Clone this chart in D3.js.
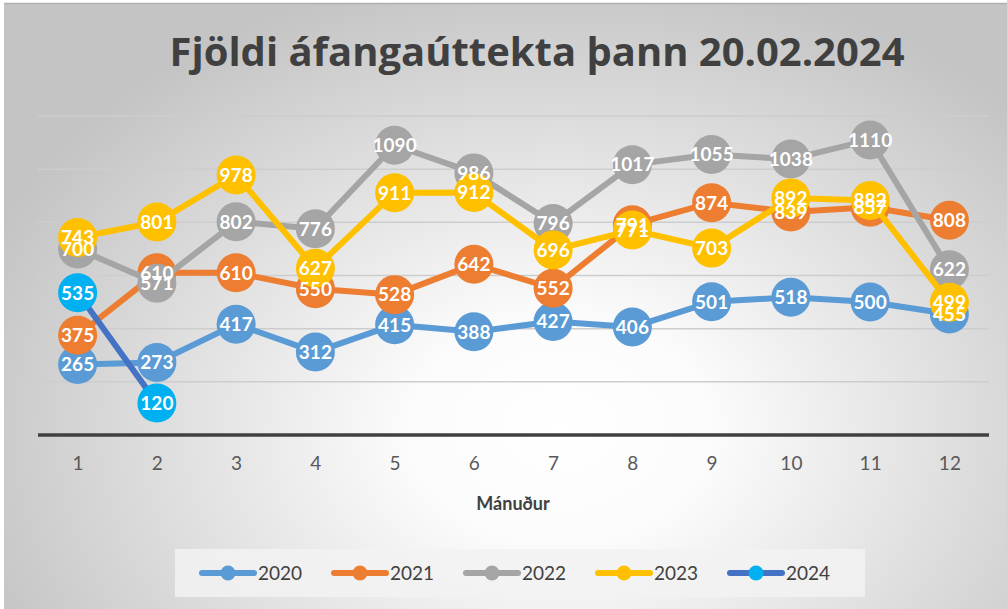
<!DOCTYPE html>
<html>
<head>
<meta charset="utf-8">
<script src="https://cdn.jsdelivr.net/npm/d3@7"></script>
<style>
  html, body { margin: 0; padding: 0; background: #fff; }
  svg { display: block; }
</style>
</head>
<body>
<div id="chart"></div>
<script>
// chart data
var months = [1, 2, 3, 4, 5, 6, 7, 8, 9, 10, 11, 12];
var years = ["2020", "2021", "2022", "2023", "2024"];
var v2020 = [265, 273, 417, 312, 415, 388, 427, 406, 501, 518, 500, 455];
var v2021 = [375, 610, 610, 550, 528, 642, 552, 791, 874, 839, 857, 808];
var v2022 = [700, 571, 802, 776, 1090, 986, 796, 1017, 1055, 1038, 1110, 622];
var v2023 = [743, 801, 978, 627, 911, 912, 696, 771, 703, 892, 882, 499];
var v2024 = [535, 120];
var gridTicks = [0, 200, 400, 600, 800, 1000, 1200];

var title = "Fjöldi áfangaúttekta þann 20.02.2024";
var xTitle = "Mánuður";

var lineColors = ["#5B9BD5", "#ED7D31", "#A5A5A5", "#FFC000", "#4472C4"];
var markColors = ["#5B9BD5", "#ED7D31", "#A5A5A5", "#FFC000", "#00B0F0"];

var series = [v2020, v2021, v2022, v2023, v2024].map(function (vals, i) {
    return {
        name: years[i],
        line: lineColors[i],
        mark: markColors[i],
        points: vals.map(function (v, j) { return { m: months[j], v: v }; })
    };
});

var width = 1007, height = 609;
var font = "Lato, 'Open Sans', sans-serif";

var svg = d3.select("#chart").append("svg")
    .attr("width", width)
    .attr("height", height);

// background gradient
var defs = svg.append("defs");
var grad = defs.append("radialGradient")
    .attr("id", "bg")
    .attr("gradientUnits", "userSpaceOnUse")
    .attr("cx", 560).attr("cy", 430).attr("r", 620)
    .attr("gradientTransform", "translate(560,430) scale(1,0.75) translate(-560,-430)");
grad.append("stop").attr("offset", "0").attr("stop-color", "#ffffff");
grad.append("stop").attr("offset", "0.25").attr("stop-color", "#fbfbfb");
grad.append("stop").attr("offset", "1").attr("stop-color", "#c4c4c4");

svg.append("rect")
    .attr("x", 4).attr("y", 3)
    .attr("width", width - 4).attr("height", height - 3)
    .attr("fill", "url(#bg)");
svg.append("line")
    .attr("x1", 4).attr("x2", width)
    .attr("y1", 3.5).attr("y2", 3.5)
    .attr("stroke", "#b0b0b0").attr("stroke-width", 1.5);

// scales
var x = d3.scalePoint()
    .domain(months)
    .range([38, 989])
    .padding(0.5);

var y = d3.scaleLinear()
    .domain([0, 1200])
    .range([435, 116]);

// gridlines
svg.append("g")
    .selectAll("line")
    .data(gridTicks.slice(1))
    .enter().append("line")
    .attr("x1", 38).attr("x2", 989)
    .attr("y1", function (d) { return y(d); })
    .attr("y2", function (d) { return y(d); })
    .attr("stroke", "#cdcdcd")
    .attr("stroke-width", 1.5);

// x axis
var xAxis = svg.append("g")
    .attr("transform", "translate(0," + y(0) + ")")
    .call(d3.axisBottom(x).tickSize(0).tickPadding(22));
xAxis.select(".domain")
    .attr("d", "M38,0H989")
    .attr("stroke", "#404040")
    .attr("stroke-width", 3.5);
xAxis.selectAll("text")
    .attr("font-family", font)
    .attr("font-size", 19)
    .attr("fill", "#595959");

svg.append("text")
    .attr("x", 513).attr("y", 510)
    .attr("text-anchor", "middle")
    .attr("font-family", font)
    .attr("font-weight", "bold")
    .attr("font-size", 18)
    .attr("fill", "#404040")
    .text(xTitle);

// title
svg.append("text")
    .attr("x", 537).attr("y", 66)
    .attr("text-anchor", "middle")
    .attr("font-family", "'Open Sans', sans-serif")
    .attr("font-weight", "bold")
    .attr("font-size", 40)
    .attr("textLength", 735)
    .attr("lengthAdjust", "spacingAndGlyphs")
    .attr("fill", "#404040")
    .text(title);

// lines and markers
var line = d3.line()
    .x(function (d) { return x(d.m); })
    .y(function (d) { return y(d.v); });

var sg = svg.append("g")
    .selectAll("g")
    .data(series)
    .enter().append("g");

sg.append("path")
    .attr("d", function (d) { return line(d.points); })
    .attr("fill", "none")
    .attr("stroke", function (d) { return d.line; })
    .attr("stroke-width", 6)
    .attr("stroke-linejoin", "round")
    .attr("stroke-linecap", "round");

sg.each(function (s) {
    d3.select(this).selectAll("circle")
        .data(s.points)
        .enter().append("circle")
        .attr("cx", function (d) { return x(d.m); })
        .attr("cy", function (d) { return y(d.v); })
        .attr("r", 19.5)
        .attr("fill", s.mark);
});

// data labels on top
var lg = svg.append("g");
series.forEach(function (s) {
    lg.selectAll(null)
        .data(s.points)
        .enter().append("text")
        .attr("x", function (d) { return x(d.m); })
        .attr("y", function (d) { return y(d.v); })
        .attr("dy", "0.36em")
        .attr("text-anchor", "middle")
        .attr("font-family", font)
        .attr("font-weight", "bold")
        .attr("font-size", 19)
        .attr("fill", "#ffffff")
        .text(function (d) { return d.v; });
});

// legend
var legend = svg.append("g");
legend.append("rect")
    .attr("x", 175).attr("y", 549)
    .attr("width", 690).attr("height", 48)
    .attr("fill", "#f2f2f2")
    .attr("fill-opacity", 0.85);

var li = legend.selectAll("g")
    .data(series)
    .enter().append("g")
    .attr("transform", function (d, i) { return "translate(" + (202 + i * 132) + ",573)"; });
li.append("line")
    .attr("x1", 0).attr("x2", 52)
    .attr("stroke", function (d) { return d.line; })
    .attr("stroke-width", 6)
    .attr("stroke-linecap", "round");
li.append("circle")
    .attr("cx", 26).attr("r", 7.5)
    .attr("fill", function (d) { return d.mark; });
li.append("text")
    .attr("x", 56).attr("dy", "0.36em")
    .attr("font-family", font)
    .attr("font-size", 19)
    .attr("fill", "#404040")
    .text(function (d) { return d.name; });
</script>
</body>
</html>
